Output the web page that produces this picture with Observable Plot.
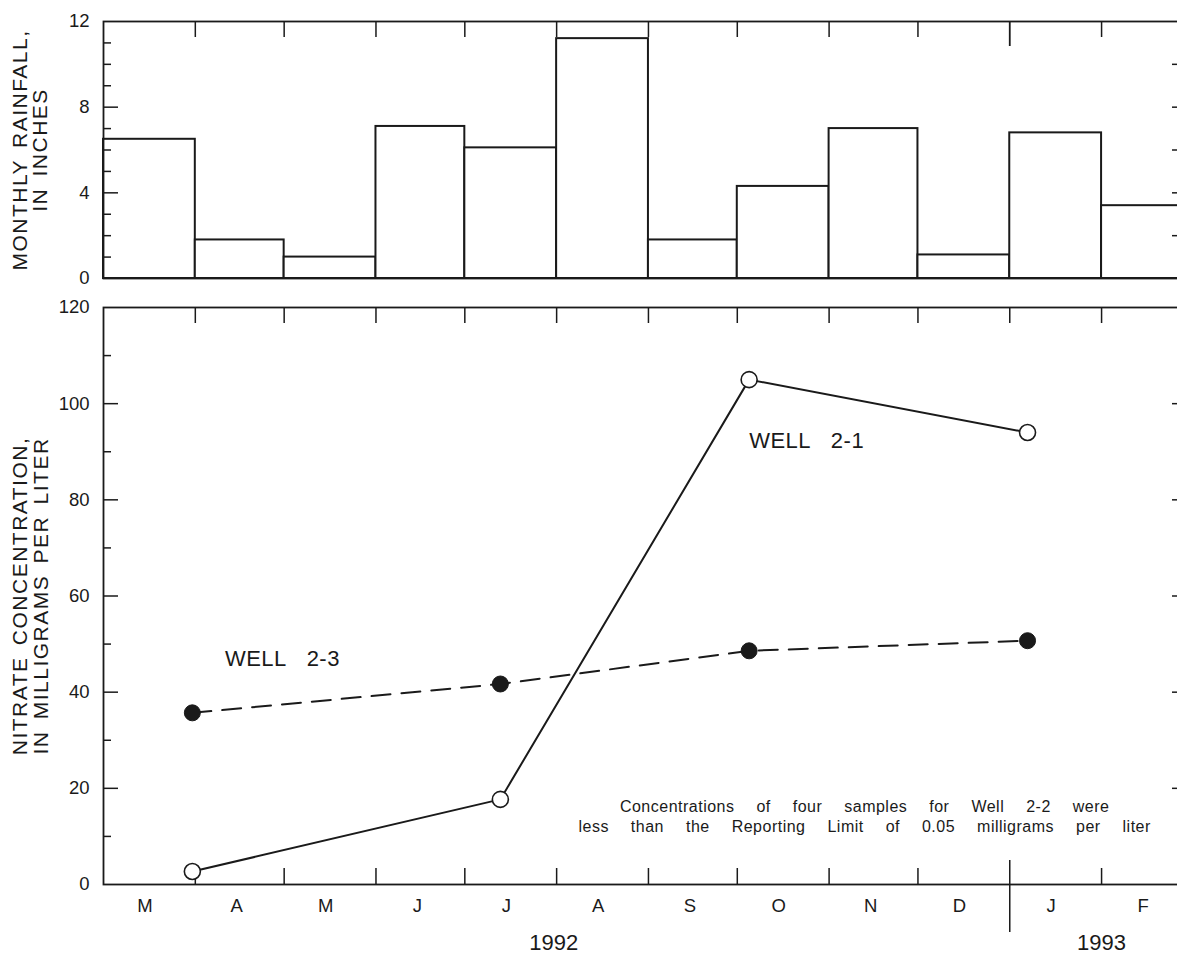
<!DOCTYPE html>
<html><head><meta charset="utf-8">
<script src="https://cdn.jsdelivr.net/npm/d3@7"></script>
<script src="https://cdn.jsdelivr.net/npm/@observablehq/plot@0.6"></script>
<style>
html,body{margin:0;padding:0;background:#fff;overflow:hidden;}
#chart svg{display:block;}
</style></head><body><div id="chart"></div>
<script>
// ---- data ----
const monthLabels = ["M","A","M","J","J","A","S","O","N","D","J","F"];
const monthStarts = ["1992-03-01","1992-04-01","1992-05-01","1992-06-01","1992-07-01","1992-08-01",
                     "1992-09-01","1992-10-01","1992-11-01","1992-12-01","1993-01-01","1993-02-01"];
const periodEnd = "1993-03-01";
const rainfall = [6.5, 1.8, 1.0, 7.1, 6.1, 11.2, 1.8, 4.3, 7.0, 1.1, 6.8, 3.4];

const sampleDates = ["1992-03-31","1992-07-13","1992-10-05","1993-01-07"];
const well21 = [2.7, 17.7, 105, 94];
const well23 = [35.7, 41.7, 48.6, 50.7];

const wellLabels = ["WELL 2-1", "WELL 2-3"];
const wellLabelDates = ["1992-10-05", "1992-04-11"];
const wellLabelValues = [92.3, 46.9];

const noteLines = ["Concentrations of four samples for Well 2-2 were",
                   "less than the Reporting Limit of 0.05 milligrams per liter"];
const noteDate = "1992-11-13";
const noteValues = [16.2, 11.9];

const yearLabels = ["1992", "1993"];
const yearDates = ["1992-07-31", "1993-02-01"];
const yearBreak = "1993-01-01";

const rainTitle = ["MONTHLY RAINFALL,", "IN INCHES"];
const nitrateTitle = ["NITRATE CONCENTRATION,", "IN MILLIGRAMS PER LITER"];

const rainTickLabels = [0, 4, 8, 12];
const rainMinor = [1, 2, 3, 5, 6, 7, 9, 10, 11];
const rainMajor = [4, 8];
const rainRight = [2, 4, 6, 8, 10];

const nitrateTickLabels = [0, 20, 40, 60, 80, 100, 120];
const nitrateMinor = [10, 30, 50, 70, 90, 110];
const nitrateMajor = [20, 40, 60, 80, 100];
const nitrateRight = [20, 40, 60, 80, 100];

// ---- build ----
(function () {
const parse = d3.utcParse("%Y-%m-%d");
const ink = "#1a1a1a";
const font = "'Liberation Sans', Arial, Helvetica, sans-serif";
const W = 1186, L = 103, R = 2;
const innerW = W - L - R;
const xDomain = [parse(monthStarts[0]), parse(periodEnd)];
const jan = parse(yearBreak);
const bounds = monthStarts.slice(1).map(parse);
const boundsNoJan = bounds.filter(d => +d !== +jan);
const svgStyle = `max-width:none;display:block;background:white;color:${ink};font-family:${font};`;

const titleOpts = {text: d => d, frameAnchor: "left", textAnchor: "middle", rotate: -90, fontSize: 21, fill: ink};
const tickLabelOpts = {text: d => String(d), frameAnchor: "left", textAnchor: "end", dx: -14, fontSize: 18.5, fill: ink};

const rainData = monthStarts.map((s, i) => ({
  start: parse(s),
  end: parse(i < monthStarts.length - 1 ? monthStarts[i + 1] : periodEnd),
  value: rainfall[i]
}));

const topH = 290, topMT = 21, topMB = 12, topInner = topH - topMT - topMB;
const rainPlot = Plot.plot({
  width: W, height: topH, marginLeft: L, marginRight: R, marginTop: topMT, marginBottom: topMB,
  style: svgStyle,
  x: {type: "utc", domain: xDomain, axis: null},
  y: {domain: [0, 12], axis: null},
  marks: [
    Plot.rectY(rainData, {x1: "start", x2: "end", y: "value", fill: "white", stroke: ink, strokeWidth: 2}),
    Plot.frame({stroke: ink, strokeWidth: 1.8}),
    Plot.tickY(rainMinor, {y: d => d, stroke: ink, strokeWidth: 1.5, insetRight: innerW - 8}),
    Plot.tickY(rainMajor, {y: d => d, stroke: ink, strokeWidth: 1.5, insetRight: innerW - 15}),
    Plot.tickY(rainRight, {y: d => d, stroke: ink, strokeWidth: 1.5, insetLeft: innerW - 12}),
    Plot.tickX(boundsNoJan, {x: d => d, stroke: ink, strokeWidth: 1.5, insetBottom: topInner - 16}),
    Plot.tickX([jan], {x: d => d, stroke: ink, strokeWidth: 1.8, insetBottom: topInner - 25}),
    Plot.text(rainTickLabels, {...tickLabelOpts, y: d => d}),
    Plot.text([rainTitle[0]], {...titleOpts, dx: -83.5}),
    Plot.text([rainTitle[1]], {...titleOpts, dx: -63})
  ]
});

const botH = 668, botMT = 17, botMB = 74, botInner = botH - botMT - botMB;
const pts21 = sampleDates.map((d, i) => ({date: parse(d), value: well21[i]}));
const pts23 = sampleDates.map((d, i) => ({date: parse(d), value: well23[i]}));

const nitratePlot = Plot.plot({
  width: W, height: botH, marginLeft: L, marginRight: R, marginTop: botMT, marginBottom: botMB,
  style: svgStyle,
  x: {type: "utc", domain: xDomain, axis: null},
  y: {domain: [0, 120], axis: null},
  marks: [
    Plot.frame({stroke: ink, strokeWidth: 1.8}),
    Plot.tickY(nitrateMinor, {y: d => d, stroke: ink, strokeWidth: 1.5, insetRight: innerW - 8}),
    Plot.tickY(nitrateMajor, {y: d => d, stroke: ink, strokeWidth: 1.5, insetRight: innerW - 15}),
    Plot.tickY(nitrateRight, {y: d => d, stroke: ink, strokeWidth: 1.5, insetLeft: innerW - 12}),
    Plot.tickX(bounds, {x: d => d, stroke: ink, strokeWidth: 1.5, insetBottom: botInner - 16}),
    Plot.tickX(boundsNoJan, {x: d => d, stroke: ink, strokeWidth: 1.5, insetTop: botInner - 16}),
    Plot.tickX([jan], {x: d => d, stroke: ink, strokeWidth: 1.5, insetTop: botInner - 24, insetBottom: -48}),
    Plot.text(nitrateTickLabels, {...tickLabelOpts, y: d => d}),
    Plot.line(pts23, {x: "date", y: "value", stroke: ink, strokeWidth: 2, strokeDasharray: "19,11"}),
    Plot.line(pts21, {x: "date", y: "value", stroke: ink, strokeWidth: 2}),
    Plot.dot(pts23, {x: "date", y: "value", r: 8, fill: ink, stroke: ink, strokeWidth: 1}),
    Plot.dot(pts21, {x: "date", y: "value", r: 8, fill: "white", stroke: ink, strokeWidth: 1.6}),
    Plot.text(wellLabels, {x: (d, i) => parse(wellLabelDates[i]), y: (d, i) => wellLabelValues[i], text: d => d,
      textAnchor: "start", fontSize: 22, fill: ink}),
    Plot.text(noteLines, {x: () => parse(noteDate), y: (d, i) => noteValues[i], text: d => d,
      textAnchor: "middle", fontSize: 16, fill: ink}),
    Plot.text(monthLabels, {x: (d, i) => d3.utcDay.offset(parse(monthStarts[i]), 14), text: d => d,
      frameAnchor: "bottom", dy: 27.5, fontSize: 18.5, fill: ink}),
    Plot.text(yearLabels, {x: (d, i) => parse(yearDates[i]), text: d => d,
      frameAnchor: "bottom", dy: 65, fontSize: 22, fill: ink}),
    Plot.text([nitrateTitle[0]], {...titleOpts, dx: -83.5}),
    Plot.text([nitrateTitle[1]], {...titleOpts, dx: -62})
  ]
});

// letter / word spacing keyed by text content
const spacing = new Map();
[...rainTitle, ...nitrateTitle].forEach(t => spacing.set(t, ["1.5px", "4px"]));
wellLabels.forEach(t => spacing.set(t, ["0.5px", "14px"]));
noteLines.forEach(t => spacing.set(t, ["0.5px", "17px"]));
for (const svg of [rainPlot, nitratePlot]) {
  d3.select(svg).selectAll("text").each(function () {
    const s = spacing.get(this.textContent);
    if (s) this.setAttribute("style", `letter-spacing:${s[0]};word-spacing:${s[1]};`);
  });
}

document.getElementById("chart").append(rainPlot, nitratePlot);
})();
</script>
</body></html>
